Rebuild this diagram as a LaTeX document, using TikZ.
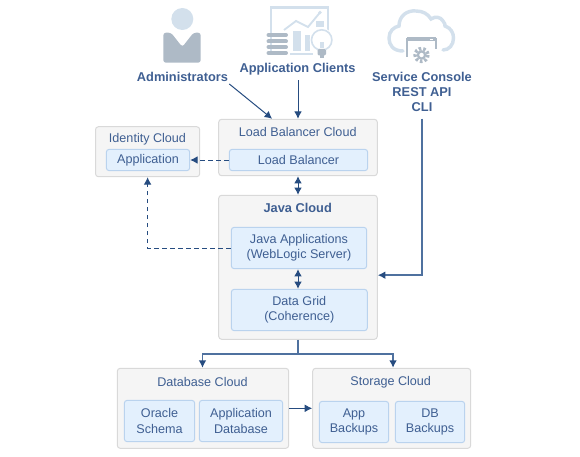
\documentclass[tikz,border=0pt]{standalone}
\usepackage{fontspec}
\setmainfont{Liberation Sans}
\usetikzlibrary{arrows.meta,calc}
\definecolor{txt}{HTML}{3F5F92}
\definecolor{arr}{HTML}{264C80}
\definecolor{softarr}{HTML}{4F719F}
\definecolor{cloudfill}{HTML}{F5F5F5}
\definecolor{cloudline}{HTML}{D9D9D9}
\definecolor{innerfill}{HTML}{E3F0FD}
\definecolor{innerline}{HTML}{BAD3EE}
\definecolor{icl}{HTML}{D3E0EC}
\definecolor{icd}{HTML}{AEBAC6}
\newcommand{\bx}[7]{%
  \pgfmathsetmacro{\wid}{(#5-#3)*0.75}%
  \pgfmathsetmacro{\hei}{(#6-#4)*0.75}%
  \node[#2,minimum width=\wid pt,minimum height=\hei pt] (#1) at ({(#3+#5)/2},{(#4+#6)/2}) {#7};}
\tikzset{
  x=0.75pt,y=-0.75pt,
  basetext/.style={font=\fontsize{9.45pt}{11.3pt}\selectfont,text=txt,align=center},
  cloudbox/.style={basetext,draw=cloudline,fill=cloudfill,rounded corners=2.2pt,line width=0.75pt,inner sep=0pt,anchor=center},
  innerbox/.style={basetext,draw=innerline,fill=innerfill,rounded corners=2.2pt,line width=0.75pt,inner sep=0pt,anchor=center},
  toplabel/.style={basetext,inner sep=0pt},
  actor/.style={font=\fontsize{9.6pt}{11.3pt}\selectfont\bfseries,text=txt,align=center,inner sep=0pt},
  conn/.style={draw=arr,line width=0.75pt,-{Latex[length=5.6pt,width=5.8pt]}},
  softconn/.style={draw=softarr,line width=1.05pt,-{Latex[length=5.6pt,width=5.8pt,color=arr]}},
  both/.style={draw=arr,line width=0.75pt,{Latex[length=5.4pt,width=5.8pt]}-{Latex[length=5.4pt,width=5.8pt]}},
  dconn/.style={conn,line width=0.7pt,dash pattern=on 3.4pt off 2.6pt},
  trunk/.style={draw=softarr,line width=1.05pt},
}
\begin{document}
\begin{tikzpicture}
\useasboundingbox (0,0) rectangle (580,456);
% outer clouds
\bx{idc}{cloudbox}{95.5}{126.7}{199.7}{176.7}{}
\bx{lbc}{cloudbox}{218.7}{119.3}{377.3}{175.7}{}
\bx{jvc}{cloudbox}{218.7}{195.3}{377.3}{339.3}{}
\bx{dbc}{cloudbox}{117.3}{368.3}{288.7}{448.3}{}
\bx{stc}{cloudbox}{312.7}{368.3}{470.7}{448.3}{}
% outer titles
\node[toplabel] (idct) at (147.5,139) {Identity Cloud};
\node[toplabel] (lbct) at (297.7,132) {Load Balancer Cloud};
\node[toplabel,font=\fontsize{9.6pt}{11.3pt}\selectfont\bfseries] (jvct) at (297.7,208) {Java Cloud};
\node[toplabel] (dbct) at (202.5,382) {Database Cloud};
\node[toplabel] (stct) at (390.7,382) {Storage Cloud};
% inner boxes
\bx{app}{innerbox}{106.3}{149.3}{189.7}{170.7}{Application}
\bx{lb}{innerbox}{229.3}{149.3}{367.7}{170.7}{Load Balancer}
\bx{ja}{innerbox}{231.3}{227.3}{366.7}{268.7}{Java Applications\\(WebLogic Server)}
\bx{dg}{innerbox}{231.3}{289.3}{367.3}{330.7}{Data Grid\\(Coherence)}
\bx{os}{innerbox}{124.3}{400.3}{194.7}{441.7}{Oracle\\Schema}
\bx{adb}{innerbox}{199.3}{400.3}{282.7}{441.7}{Application\\Database}
\bx{ab}{innerbox}{319.3}{401.3}{388.7}{442.7}{App\\Backups}
\bx{dbb}{innerbox}{395.3}{401.3}{464.7}{442.7}{DB\\Backups}
% actor labels
\node[actor] (adm) at (182.5,77) {Administrators};
\node[actor] (cli) at (297.5,69) {Application Clients};
\node[actor] (svc) at (422,91.5) {Service Console\\REST API\\CLI};
% icons: administrator
\fill[icl] (182.3,19) circle (11);
\fill[icd,rounded corners=2pt] (163.3,32.7) -- (171,32.7) -- (182.3,47) -- (193.5,32.7) -- (200.7,32.7) -- (200.7,62.7) -- (163.3,62.7) -- cycle;
% icons: application clients
\draw[icl,line width=1.9pt] (271,52) -- (271,7.5) -- (328,7.5) -- (328,31);
\draw[icl,line width=1.3pt] (290,54) -- (313,54);
\draw[icl,line width=1.4pt] (284,30) -- (296,21) -- (308,27) -- (320,12.5);
\fill[icl] (320,12.5) circle (1.8) (296,21) circle (1.2);
\fill[icl] (293,31) rectangle (301,51);
\fill[icl] (305,35) rectangle (310,51);
\fill[icl] (316,21) rectangle (324,27);
\foreach \yy in {35,41.5,47,53}{\draw[icd,line width=3pt,line cap=round] (268.5,\yy) -- (286,\yy);}
\fill[white] (321.7,40) circle (12);
\draw[icl,line width=1.2pt] (321.7,40) circle (10.2);
\fill[icl] (319.5,42) rectangle (324,48);
\fill[icd,rounded corners=1pt] (317.5,49) rectangle (326,55.5);
\fill[icd] (320,55) rectangle (323.5,58.5);
% icons: service console
\draw[icl,line width=2.6pt,line cap=round] (403,51) .. controls (393,51) and (389,45) .. (389,38) .. controls (389,31) and (394,27) .. (399,26) .. controls (399,16) and (407,10) .. (416,11) .. controls (423,11) and (428,14) .. (431,19) .. controls (435,16) and (441,17) .. (443,21) .. controls (445,23) and (445,25) .. (445,26) .. controls (451,28) and (453.5,33) .. (453.5,38) .. controls (453.5,45) and (449,50) .. (443,50);
\draw[icd,line width=1.3pt] (407,57) -- (407,38.5) -- (436,38.5) -- (436,49);
\fill[icd] (407,37.5) rectangle (436,41);
\fill[white] (430,39) rectangle (433,40);
\fill[white] (421.5,54.5) circle (12);
\draw[icd,line width=2.6pt,dash pattern=on 1.9pt off 1.5pt] (421.5,55) circle (6.4);
\draw[icd,line width=1.7pt] (421.5,55) circle (3.6);
% connectors
\draw[conn] (adm.south east) ++(1,2) -- ([xshift=-19.4pt]lbc.north);
\draw[conn] (cli.south -| lbc.north) ++(0,5) -- (lbc.north);
\draw[both] (lbc.south) -- (jvc.north);
\draw[both] (ja.south -| jvc.north) -- (dg.north -| jvc.north);
\draw[dconn] (lb.west) -- (app.east);
\draw[dconn] (ja.west) -| (idc.south);
\draw[softconn] (svc.south) ++(0,7) |- ([yshift=-5.9pt]jvc.east);
\draw[trunk] (jvc.south) -- ++(0,14.2) coordinate (jn);
\draw[softconn] (jn) -| (dbct.north |- dbc.north);
\draw[softconn] (jn) -| ([xshift=1pt]stc.north);
\coordinate (dbs) at (288.7,408.3);
\draw[conn] (dbc.east |- dbs) -- (stc.west |- dbs);
\end{tikzpicture}
\end{document}
